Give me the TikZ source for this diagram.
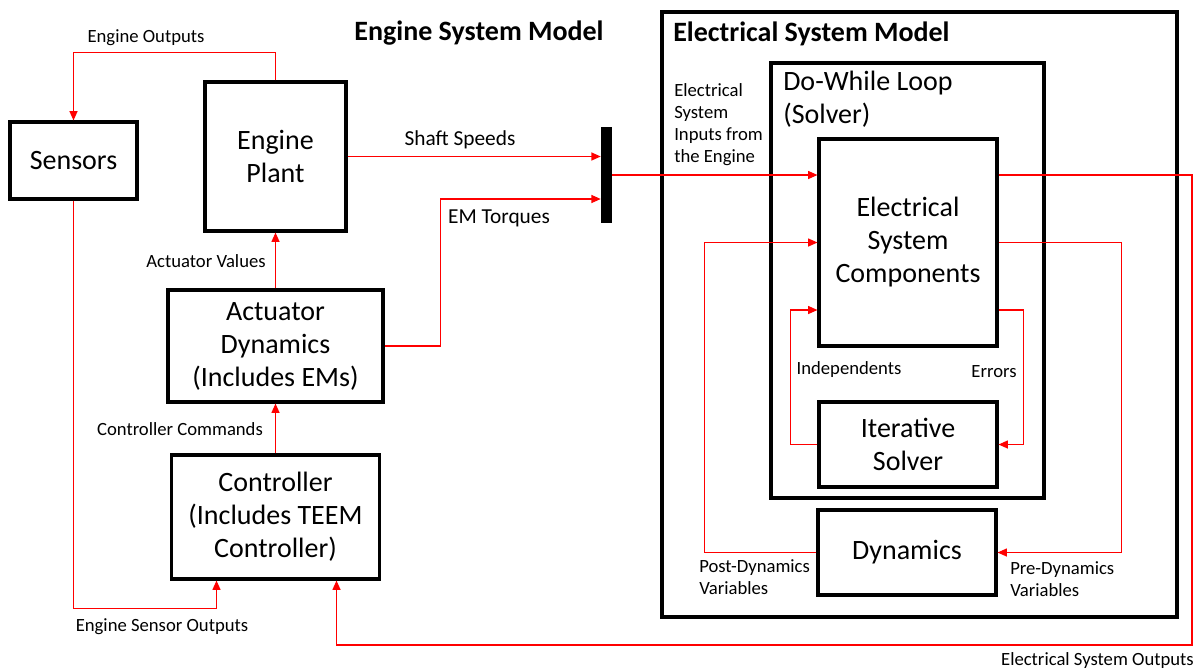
\documentclass[tikz,border=0pt]{standalone}
\usepackage{fontspec}
\setmainfont{Carlito}
\usetikzlibrary{arrows.meta,calc}
\tikzset{
  box/.style={draw, line width=2.3pt, align=center, inner sep=0pt, font=\fontsize{21}{24.75}\selectfont},
  frame/.style={draw, line width=2.3pt, inner sep=0pt},
  conn/.style={red, line width=0.9pt, -{Triangle[length=7pt,width=6pt]}},
  lab/.style={inner sep=0pt, align=left, font=\fontsize{14}{16.5}\selectfont},
  mlab/.style={inner sep=0pt, align=left, font=\fontsize{16}{19}\selectfont},
  ttl/.style={inner sep=0pt, font=\fontsize{21}{25}\selectfont\bfseries},
}
\begin{document}
\begin{tikzpicture}[x=0.75pt,y=-0.75pt]
\useasboundingbox (0,0) rectangle (1196,669);
% frames
\node[frame, minimum width=386.25pt, minimum height=453.75pt] (outer) at (919.5,314.5) {};
\node[frame, minimum width=204.75pt, minimum height=326.25pt] (dowhile) at (907.5,280.5) {};
% boxes
\node[box, minimum width=95.25pt, minimum height=57.75pt] (sensors) at (73.5,160.5) {Sensors};
\node[box, minimum width=105.75pt, minimum height=111.75pt] (plant) at (275.5,156.5) {Engine\\Plant};
\node[box, minimum width=161.25pt, minimum height=84pt] (act) at (275.5,346) {Actuator\\Dynamics\\(Includes EMs)};
\node[box, minimum width=156pt, minimum height=93pt] (ctrl) at (275.5,517) {Controller\\(Includes TEEM\\Controller)};
\node[fill=black, inner sep=0pt, minimum width=8.25pt, minimum height=72pt] (bar) at (606.5,175) {};
\node[box, minimum width=133.5pt, minimum height=155.25pt] (esc) at (908,242.5) {Electrical\\System\\Components};
\node[box, minimum width=133.5pt, minimum height=63.75pt] (iter) at (908,444.5) {Iterative\\Solver};
\node[box, minimum width=133.5pt, minimum height=63.75pt] (dyn) at (907,552.5) {Dynamics};
% titles and texts
\node[ttl] (t1) at (479,33) {Engine System Model};
\node[ttl, anchor=west] (t2) at (673,34) {Electrical System Model};
\node[inner sep=0pt, align=left, anchor=west, font=\fontsize{21}{24.75}\selectfont] (dwl) at (783,99.5) {Do-While Loop\\(Solver)};
\node[lab, anchor=west] (inl) at (674,125) {Electrical\\System\\Inputs from\\the Engine};
\node[mlab] (ssl) at (460,140) {Shaft Speeds};
\node[mlab] (eml) at (499,218) {EM Torques};
\node[lab] (eol) at (146,38) {Engine Outputs};
\node[lab] (avl) at (206,261) {Actuator Values};
\node[lab] (ccl) at (180,429) {Controller Commands};
\node[lab] (esl) at (162,627) {Engine Sensor Outputs};
\node[lab] (indl) at (849,370) {Independents};
\node[lab] (errl) at (994,372) {Errors};
\node[lab, anchor=west] (postl) at (699,577) {Post-Dynamics\\Variables};
\node[lab, anchor=west] (prel) at (1010,579) {Pre-Dynamics\\Variables};
\node[lab, anchor=east] (eoutl) at (1194,661) {Electrical System Outputs};
% helper coordinates
\coordinate (emy) at (0,199);
\coordinate (eso) at (1192,645);
% connectors
\draw[conn] (plant.north) -- ++(0,-28) -| (sensors.north);
\draw[conn] (plant.east) -- (plant.east -| bar.west);
\draw[conn] (act.east) -- ++(56,0) |- (bar.west |- emy);
\draw[conn] (act.north) -- (plant.south);
\draw[conn] (ctrl.north) -- (act.south);
\draw[conn] (sensors.south) |- ($(ctrl.south)+(-59,28)$) -- ($(ctrl.south)+(-59,0)$);
\draw[conn] (bar.east) -- (bar.east -| esc.west);
\draw[conn] (esc.east |- bar.east) -| (eso) -| ($(ctrl.south)+(61,0)$);
\draw[conn] (esc.east) -- ++(123,0) |- (dyn.east);
\draw[conn] (dyn.west) -- ++(-112,0) |- (esc.west);
\draw[conn] ($(esc.east)+(0,67.5)$) -- ++(25,0) |- (iter.east);
\draw[conn] (iter.west) -- ++(-27,0) |- ($(esc.west)+(0,67.5)$);
\end{tikzpicture}
\end{document}
